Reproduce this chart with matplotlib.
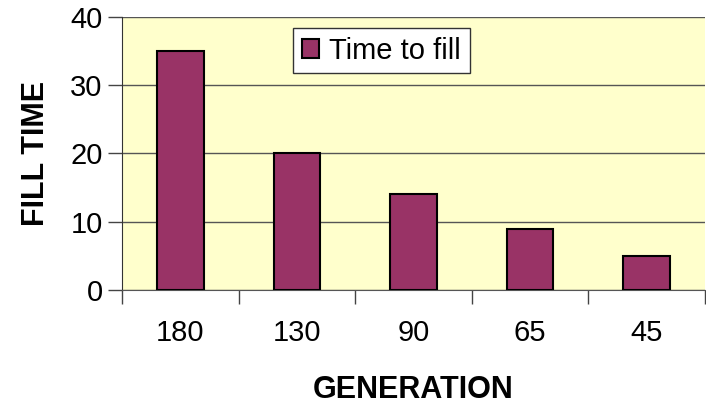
import matplotlib
matplotlib.use("Agg")
import matplotlib.pyplot as plt
from matplotlib.ticker import FixedLocator

generations = ["180", "130", "90", "65", "45"]
fill_time = [35, 20, 14, 9, 5]
y_ticks = [0, 10, 20, 30, 40]

plt.rcParams["font.family"] = ["Liberation Sans", "DejaVu Sans"]

fig = plt.figure(figsize=(7.06, 4.04), dpi=100)
ax = fig.add_axes([122 / 706, 1 - 290 / 404, (705 - 122) / 706, (290 - 17) / 404])
ax.set_facecolor("#ffffcc")

x = range(len(generations))
ax.bar(x, fill_time, width=0.4, color="#993366", edgecolor="black",
       linewidth=1.5, label="Time to fill", zorder=3)

ax.set_xlim(-0.5, len(generations) - 0.5)
ax.set_ylim(0, 40)
ax.set_yticks(y_ticks)
ax.yaxis.grid(True, color="#555555", linewidth=1, zorder=1)

# category labels at centres, tick marks at the boundaries
ax.set_xticks(list(x))
ax.set_xticklabels(generations)
ax.xaxis.set_minor_locator(FixedLocator([i - 0.5 for i in range(len(generations) + 1)]))
ax.tick_params(axis="x", which="major", length=0, pad=21, labelsize=21)
ax.tick_params(axis="x", which="minor", length=10, width=1, color="#444444")
ax.tick_params(axis="y", length=10, width=1, color="#444444", labelsize=21, pad=4)

for side in ["top", "right"]:
    ax.spines[side].set_visible(False)
ax.spines["left"].set_color("#333333")
ax.spines["bottom"].set_color("#555555")

ax.set_ylabel("FILL TIME", fontsize=22, fontweight="bold", labelpad=14)
ax.set_xlabel("GENERATION", fontsize=22, fontweight="bold", labelpad=20)

leg = ax.legend(loc="upper left", bbox_to_anchor=(0.293, 0.96), fontsize=21,
                frameon=True, fancybox=False, handlelength=0.6, handleheight=0.6,
                handletextpad=0.35, borderpad=0.3, borderaxespad=0)
leg.get_frame().set_edgecolor("#333333")
leg.get_frame().set_facecolor("white")
leg.get_frame().set_alpha(1)

fig.savefig("out.png", dpi=100)
